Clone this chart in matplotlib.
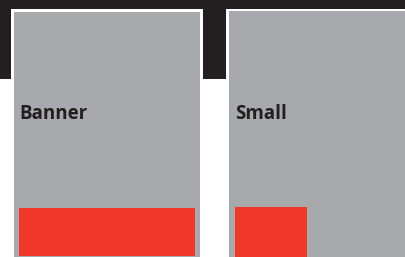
import matplotlib
matplotlib.use("Agg")
import matplotlib.pyplot as plt
from matplotlib.patches import Rectangle

# ad formats shown as gray placements with a red ad slot at the bottom
formats = ["Banner", "Small"]
panel_left = [14, 229]
panel_right = [200, 406]
ad_left = [19, 235]
ad_width = [176, 72]
ad_top = [208, 207]
ad_bottom = [256, 257]

DARK = "#231f20"
GRAY = "#a7a9ac"
RED = "#ef3829"

fig = plt.figure(figsize=(4.06, 2.57), dpi=100)
ax = fig.add_axes([0, 0, 1, 1])
ax.set_xlim(0, 406)
ax.set_ylim(257, 0)
ax.axis("off")
fig.patch.set_facecolor("white")

# dark header strip behind the panels
ax.add_patch(Rectangle((0, 0), 406, 79, facecolor=DARK, edgecolor="none"))

for i, name in enumerate(formats):
    l, r = panel_left[i], panel_right[i]
    # white frame then gray panel
    ax.add_patch(Rectangle((l - 3, 9), r - l + 6, 257, facecolor="white", edgecolor="none"))
    ax.add_patch(Rectangle((l, 12 if i == 0 else 11), r - l, 257, facecolor=GRAY, edgecolor="none"))
    ax.add_patch(Rectangle((ad_left[i], ad_top[i]), ad_width[i], ad_bottom[i] - ad_top[i],
                           facecolor=RED, edgecolor="none"))
    ax.text(ad_left[i], 114, name, fontsize=13.5, fontweight="bold", color=DARK,
            family=["Open Sans", "DejaVu Sans"], va="center", ha="left")

fig.savefig("out.png", dpi=100)
